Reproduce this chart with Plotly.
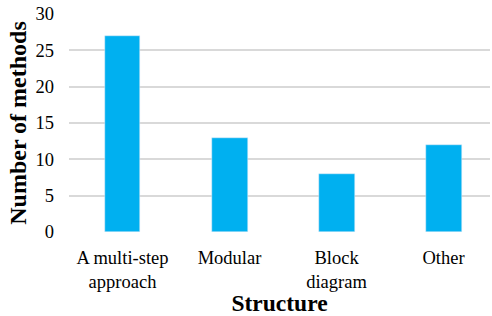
import plotly.graph_objects as go

categories = ["A multi-step<br>approach", "Modular", "Block<br>diagram", "Other"]
values = [27, 13, 8, 12]
y_ticks = [0, 5, 10, 15, 20, 25, 30]

SERIF = "Liberation Serif"

fig = go.Figure(go.Bar(x=list(range(len(categories))), y=values, marker_color="#00B0F0",
                       width=0.336))
fig.update_layout(
    width=492, height=316,
    margin=dict(l=69, r=2, t=14, b=84, autoexpand=False),
    plot_bgcolor="white", paper_bgcolor="white",
    font=dict(family=SERIF, size=18.5, color="black"),
    showlegend=False,
    bargap=0,
)
fig.update_xaxes(tickvals=list(range(len(categories))), ticktext=categories,
                 tickfont=dict(family=SERIF, size=18.5, color="black"),
                 range=[-0.5, 3.434], showgrid=False, showline=False, ticks="",
                 automargin=False, ticklabelstandoff=12,
                 title=dict(text="<b>Structure</b>", font=dict(family=SERIF, size=23.5), standoff=1))
fig.update_yaxes(range=[0, 30], tickvals=y_ticks, showgrid=True, gridcolor="#D9D9D9",
                 tickfont=dict(family=SERIF, size=18.5, color="black"),
                 gridwidth=1.5, zeroline=False, ticks="", automargin=False,
                 ticklabelstandoff=14,
                 title=dict(text="<b>Number of methods</b>", font=dict(family=SERIF, size=24), standoff=2))
fig.write_html("out.html", config={"displayModeBar": False},
               post_script="document.body.style.margin='0';document.body.style.padding='0';")
